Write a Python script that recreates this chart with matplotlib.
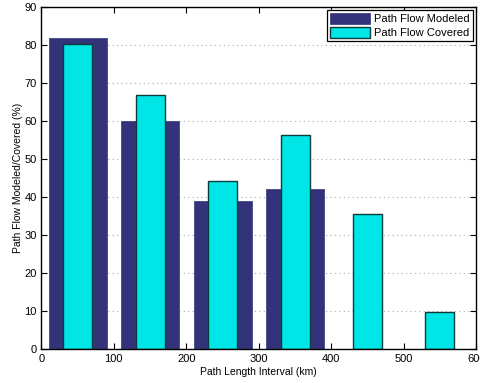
import matplotlib
matplotlib.use("Agg")
import matplotlib.pyplot as plt

plt.rcParams["font.family"] = ["Liberation Sans", "DejaVu Sans"]

centers = [50, 150, 250, 350, 450, 550]
modeled = [81.7, 60.1, 38.9, 42.0, 0, 0]
covered = [80.3, 66.7, 44.3, 56.3, 35.4, 9.6]

DARK = "#333379"
CYAN = "#00e5e5"

fig = plt.figure(figsize=(4.81, 3.83), dpi=100)
ax = fig.add_axes([0.086, 0.089, 0.904, 0.893])

ax.bar(centers, modeled, width=80, color=DARK, edgecolor=DARK, linewidth=0.5,
       label="Path Flow Modeled", zorder=2)
ax.bar(centers, covered, width=40, color=CYAN, edgecolor="#0b3b3b", linewidth=1.0,
       label="Path Flow Covered", zorder=3)

ax.set_xlim(0, 600)
ax.set_ylim(0, 90)
ax.set_xticks(range(0, 601, 100))
ax.set_yticks(range(0, 91, 10))
ax.tick_params(direction="in", labelsize=8, length=4, width=0.8,
               top=True, right=True)
ax.yaxis.grid(True, linestyle=(0, (1, 3)), color="#aaaaaa", linewidth=0.8, zorder=0)
ax.set_axisbelow(True)
for s in ax.spines.values():
    s.set_linewidth(1.0)
    s.set_zorder(4)

ax.set_xlabel("Path Length Interval (km)", fontsize=7.5, labelpad=2)
ax.set_ylabel("Path Flow Modeled/Covered (%)", fontsize=7.5, labelpad=1)

leg = ax.legend(loc="upper right", fontsize=8, fancybox=False, framealpha=1,
                edgecolor="black", borderaxespad=0.25, handlelength=3.6,
                handleheight=1.1, handletextpad=0.4, borderpad=0.3,
                labelspacing=0.25)
leg.get_frame().set_linewidth(0.9)

fig.savefig("out.png", dpi=100)
